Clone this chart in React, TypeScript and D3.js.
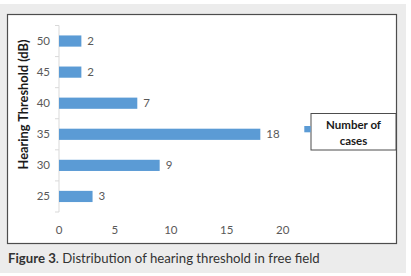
import React from "react";
import * as d3 from "d3";

const categories = ["25", "30", "35", "40", "45", "50"];
const values = [3, 9, 18, 7, 2, 2];
const xTicks = [0, 5, 10, 15, 20];
const seriesName = ["Number of", "cases"];
const yTitle = "Hearing Threshold (dB)";
const captionBold = "Figure 3";
const captionRest = ". Distribution of hearing threshold in free field";

const W = 411;
const H = 276;
const FONT = "Lato, 'Open Sans', sans-serif";

export default function App() {
  const x = d3.scaleLinear().domain([0, 20]).range([59, 282.7]);
  const y = d3
    .scaleBand<string>()
    .domain([...categories].reverse())
    .range([25.5, 212])
    .paddingInner(0.64)
    .paddingOuter(0.32);
  const step = y.step();
  const boundaries = d3.range(categories.length + 1).map((i) => 25.5 + i * step);
  const axisX = x(0);

  return (
    <svg
      width={W}
      height={H}
      style={{ position: "absolute", left: 0, top: 0 }}
      fontFamily={FONT}
    >
      <rect x={0} y={0} width={W} height={H} fill="#ffffff" />
      <rect x={0} y={4} width={406} height={269} fill="#ececec" />
      <rect x={7.5} y={14.5} width={389} height={229} fill="#ffffff" stroke="#4d4d4d" strokeWidth={1.2} />

      {/* y axis */}
      <line x1={axisX} x2={axisX} y1={boundaries[0]} y2={boundaries[boundaries.length - 1]} stroke="#d9d9d9" strokeWidth={1} />
      {boundaries.map((b, i) => (
        <line key={i} x1={axisX - 4} x2={axisX} y1={b} y2={b} stroke="#d9d9d9" strokeWidth={1} />
      ))}

      {/* bars */}
      {categories.map((c, i) => (
        <g key={c}>
          <rect
            x={x(0)}
            y={y(c)!}
            width={x(values[i]) - x(0)}
            height={y.bandwidth()}
            fill="#5b9bd5"
          />
          <text
            x={x(values[i]) + 6}
            y={y(c)! + y.bandwidth() / 2}
            dy="0.35em"
            fontSize={11.5}
            fill="#595959"
          >
            {values[i]}
          </text>
          <text
            x={axisX - 9}
            y={y(c)! + y.bandwidth() / 2}
            dy="0.35em"
            textAnchor="end"
            fontSize={11.5}
            fill="#595959"
          >
            {c}
          </text>
        </g>
      ))}

      {/* x tick labels */}
      {xTicks.map((t) => (
        <text key={t} x={x(t)} y={230} dy="0.35em" textAnchor="middle" fontSize={11.5} fill="#595959">
          {t}
        </text>
      ))}

      {/* y title */}
      <text
        transform={`translate(24,104.5) rotate(-90)`}
        textAnchor="middle"
        dy="0.35em"
        fontSize={12.8}
        fontWeight="bold"
        fill="#1a1a1a"
      >
        {yTitle}
      </text>

      {/* legend */}
      <rect x={311} y={113.5} width={85} height={36.5} fill="#ffffff" stroke="#4d4d4d" strokeWidth={1} />
      <rect x={304.3} y={126} width={6.4} height={6.3} fill="#5b9bd5" />
      {seriesName.map((s, i) => (
        <text
          key={s}
          x={353.5}
          y={124.5 + i * 16}
          dy="0.35em"
          textAnchor="middle"
          fontSize={11.5}
          fontWeight="bold"
          fill="#1a1a1a"
        >
          {s}
        </text>
      ))}

      {/* caption */}
      <text x={8} y={263} fontSize={13.2} fill="#333333">
        <tspan fontWeight="bold">{captionBold}</tspan>
        <tspan>{captionRest}</tspan>
      </text>
    </svg>
  );
}
